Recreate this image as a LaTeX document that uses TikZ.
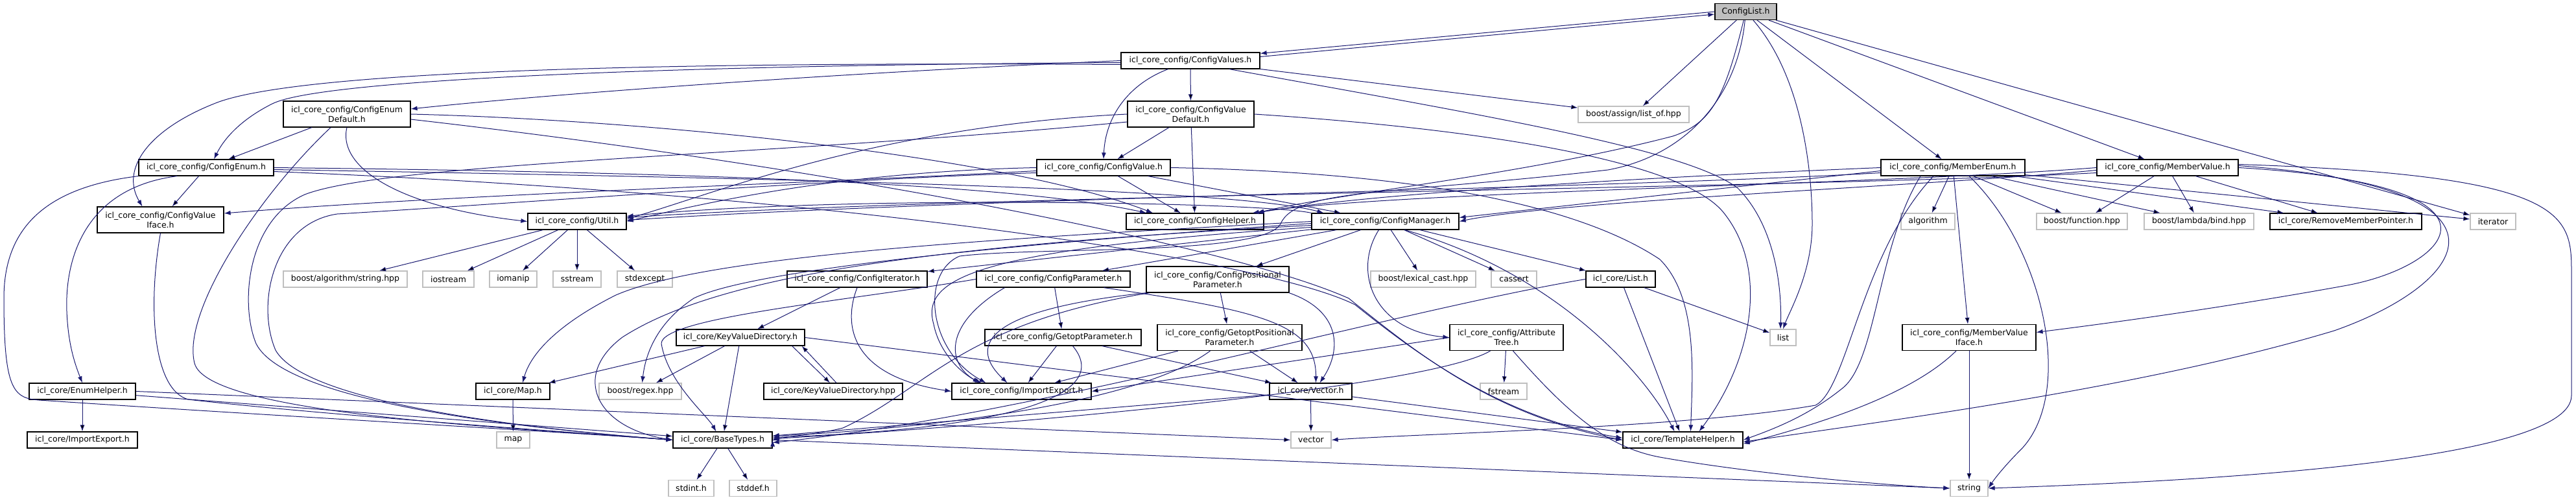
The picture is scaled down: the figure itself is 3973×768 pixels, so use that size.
\documentclass[tikz,border=0pt]{standalone}
\usepackage{fontspec}
\setmainfont{DejaVu Sans}
\usepackage{tikz}
\usetikzlibrary{arrows.meta}

\definecolor{edgeblue}{HTML}{191970}
\definecolor{sysgray}{HTML}{BFBFBF}

\tikzset{
	hdr/.style={draw=black, line width=1.2pt, fill=white, text=black, inner sep=0pt,
		minimum height=25pt, font=\fontsize{12.5pt}{15pt}\selectfont},
	sys/.style={hdr, draw=sysgray},
	root/.style={hdr, fill=sysgray},
	two/.style={minimum height=40pt, align=center},
	dep/.style={draw=edgeblue, line width=1pt, -{Latex[length=10pt,width=7pt]}}
}

\begin{document}
\begin{tikzpicture}[x=1pt, y=-1pt]
	\useasboundingbox (0,0) rectangle (3973,768);

	\node[root, minimum width=95pt] (cfgList) at (2692.5,18) {ConfigList.h};
	\node[hdr, minimum width=214pt] (cfgValues) at (1836,93.5) {icl\_core\_config/ConfigValues.h};

	\node[hdr, two, minimum width=196pt] (enumDef) at (535,176) {icl\_core\_config/ConfigEnum\\Default.h};
	\node[hdr, two, minimum width=195pt] (valueDef) at (1836.5,176) {icl\_core\_config/ConfigValue\\Default.h};
	\node[sys, minimum width=171pt] (listOf) at (2519.5,176.5) {boost/assign/list\_of.hpp};

	\node[hdr, minimum width=208pt] (cfgEnum) at (318,258.5) {icl\_core\_config/ConfigEnum.h};
	\node[hdr, minimum width=206pt] (cfgValue) at (1702,258.5) {icl\_core\_config/ConfigValue.h};
	\node[hdr, minimum width=222pt] (memEnum) at (3012,258.5) {icl\_core\_config/MemberEnum.h};
	\node[hdr, minimum width=218pt] (memValue) at (3343,258.5) {icl\_core\_config/MemberValue.h};

	\node[hdr, two, minimum width=195pt] (valIface) at (247.5,339) {icl\_core\_config/ConfigValue\\Iface.h};
	\node[hdr, minimum width=152pt] (cfgUtil) at (890,341.5) {icl\_core\_config/Util.h};
	\node[hdr, minimum width=212pt] (cfgHelper) at (1843,341.5) {icl\_core\_config/ConfigHelper.h};
	\node[hdr, minimum width=227pt] (cfgManager) at (2136.5,341.5) {icl\_core\_config/ConfigManager.h};
	\node[sys, minimum width=83pt] (stAlgorithm) at (2973.5,341.5) {algorithm};
	\node[sys, minimum width=140pt] (boostFunction) at (3211,341.5) {boost/function.hpp};
	\node[sys, minimum width=169pt] (boostBind) at (3391.5,341.5) {boost/lambda/bind.hpp};
	\node[hdr, minimum width=234pt] (rmPointer) at (3618,341.5) {icl\_core/RemoveMemberPointer.h};
	\node[sys, minimum width=70pt] (stIterator) at (3845,341.5) {iterator};

	\node[sys, minimum width=191pt] (boostString) at (532.5,430.5) {boost/algorithm/string.hpp};
	\node[sys, minimum width=79pt] (stIostream) at (691.5,430.5) {iostream};
	\node[sys, minimum width=73pt] (stIomanip) at (791.5,430.5) {iomanip};
	\node[sys, minimum width=74pt] (stSstream) at (890,430.5) {sstream};
	\node[sys, minimum width=85pt] (stStdexcept) at (994.5,430.5) {stdexcept};
	\node[hdr, minimum width=216pt] (cfgIterator) at (1322,430.5) {icl\_core\_config/ConfigIterator.h};
	\node[hdr, minimum width=237pt] (cfgParam) at (1624.5,430.5) {icl\_core\_config/ConfigParameter.h};
	\node[hdr, two, minimum width=220pt] (posParam) at (1878,431) {icl\_core\_config/ConfigPositional\\Parameter.h};
	\node[sys, minimum width=162pt] (lexCast) at (2195,430.5) {boost/lexical\_cast.hpp};
	\node[sys, minimum width=70pt] (stCassert) at (2335,430.5) {cassert};
	\node[hdr, minimum width=107pt] (coreList) at (2499.5,430.5) {icl\_core/List.h};

	\node[hdr, minimum width=198pt] (kvDir) at (1142,520.5) {icl\_core/KeyValueDirectory.h};
	\node[hdr, minimum width=241pt] (getoptParam) at (1639.5,520.5) {icl\_core\_config/GetoptParameter.h};
	\node[hdr, two, minimum width=223pt] (getoptPos) at (1896.5,520.5) {icl\_core\_config/GetoptPositional\\Parameter.h};
	\node[hdr, two, minimum width=175pt] (attrTree) at (2323.5,520.5) {icl\_core\_config/Attribute\\Tree.h};
	\node[sys, minimum width=40pt] (stList) at (2750,520.5) {list};
	\node[hdr, two, minimum width=206pt] (memIface) at (3037,520.5) {icl\_core\_config/MemberValue\\Iface.h};

	\node[hdr, minimum width=164pt] (enumHelper) at (127,603.5) {icl\_core/EnumHelper.h};
	\node[hdr, minimum width=114pt] (coreMap) at (791,603.5) {icl\_core/Map.h};
	\node[sys, minimum width=127pt] (boostRegex) at (987.5,603.5) {boost/regex.hpp};
	\node[hdr, minimum width=214pt] (kvDirHpp) at (1285,603.5) {icl\_core/KeyValueDirectory.hpp};
	\node[hdr, minimum width=215pt] (cfgExport) at (1575.5,603.5) {icl\_core\_config/ImportExport.h};
	\node[hdr, minimum width=127pt] (coreVector) at (2021.5,603.5) {icl\_core/Vector.h};
	\node[sys, minimum width=72pt] (stFstream) at (2319,603.5) {fstream};

	\node[hdr, minimum width=170pt] (coreExport) at (127,678.5) {icl\_core/ImportExport.h};
	\node[sys, minimum width=51pt] (stMap) at (791.5,678.5) {map};
	\node[hdr, minimum width=153pt] (baseTypes) at (1114.5,678.5) {icl\_core/BaseTypes.h};
	\node[sys, minimum width=62pt] (stVector) at (2022,678.5) {vector};
	\node[hdr, minimum width=185pt] (tmplHelper) at (2595.5,678.5) {icl\_core/TemplateHelper.h};

	\node[sys, minimum width=70pt] (stStdint) at (1066,753) {stdint.h};
	\node[sys, minimum width=73pt] (stStddef) at (1161.5,753) {stddef.h};
	\node[sys, minimum width=58pt] (stString) at (3037,753) {string};

	\draw[dep] (cfgList.west) -- ([yshift=-2pt]cfgValues.north east);
	\draw[dep] ([yshift=6pt]cfgValues.east) -- ([yshift=-4pt]cfgList.west);
	\path[dep]
	(cfgList) edge (listOf)
	(cfgList) edge (memEnum)
	(cfgList) edge (memValue)
	(cfgList) edge (stIterator)
	(cfgValues) edge (valueDef)
	(cfgValues) edge (listOf)
	(enumDef) edge (cfgEnum)
	(cfgEnum) edge (valIface)
	(valueDef) edge (cfgValue)
	(valueDef) edge (cfgHelper)
	(cfgValue) edge (cfgHelper)
	(cfgValue) edge (cfgManager)
	(cfgUtil) edge (boostString)
	(cfgUtil) edge (stIostream)
	(cfgUtil) edge (stIomanip)
	(cfgUtil) edge (stSstream)
	(cfgUtil) edge (stStdexcept)
	(cfgManager) edge (cfgIterator)
	(cfgManager) edge (cfgParam)
	(cfgManager) edge (posParam)
	(cfgManager) edge (lexCast)
	(cfgManager) edge (stCassert)
	(cfgManager) edge (coreList)
	(memEnum) edge (stAlgorithm)
	(memEnum) edge (boostFunction)
	(memEnum) edge (boostBind)
	(memEnum) edge (rmPointer)
	(memEnum) edge (stIterator)
	(memEnum) edge (memIface)
	(memValue) edge (boostFunction)
	(memValue) edge (boostBind)
	(memValue) edge (rmPointer)
	(memIface) edge (stString)
	(coreList) edge (stList)
	(coreList) edge (tmplHelper)
	(attrTree) edge (stFstream)
	(attrTree.west) edge (cfgExport.east)
	(cfgIterator) edge (kvDir)
	(cfgParam) edge (getoptParam)
	(posParam) edge (getoptPos)
	(getoptParam) edge (cfgExport)
	(getoptParam) edge (coreVector)
	(getoptPos) edge (cfgExport)
	(getoptPos) edge (coreVector)
	(kvDir) edge (coreMap)
	(kvDir) edge (boostRegex)
	(kvDir) edge (baseTypes)
	([xshift=-20pt]kvDir.south east) edge ([xshift=-5pt]kvDirHpp.north)
	([xshift=5pt]kvDirHpp.north) edge ([xshift=-5pt]kvDir.south east)
	(kvDir.east) edge (tmplHelper.west)
	(coreVector) edge (stVector)
	(coreVector) edge (baseTypes)
	(coreVector) edge (tmplHelper)
	(coreMap) edge (stMap)
	(enumHelper) edge (coreExport)
	(enumHelper) edge (baseTypes)
	(enumHelper.east) edge (stVector.west)
	(baseTypes) edge (stStdint)
	(baseTypes) edge (stStddef)
	(baseTypes.east) edge (stString.west)
	;

	\draw[dep] (cfgList) .. controls (2660,150) and (2640,190) .. (2580,210) .. controls (2350,270) and (2050,300) .. ([xshift=-10pt]cfgHelper.north east);
	\draw[dep] (cfgList) .. controls (2680,150) and (2600,240) .. (2480,262) .. controls (2150,300) and (2000,290) .. (1975,345) .. controls (1950,395) and (1600,380) .. (1480,395) .. controls (1420,420) and (1430,540) .. ([xshift=-55pt]cfgExport.north);
	\draw[dep] (cfgList) .. controls (2790,130) and (2795,300) .. (2795,345) .. controls (2795,420) and (2760,480) .. (stList.north);

	\draw[dep] (cfgValues.west) .. controls (1350,110) and (900,140) .. ([yshift=8pt]enumDef.east);
	\draw[dep] ([yshift=-3pt]cfgValues.west) .. controls (1100,100) and (500,120) .. (420,160) .. controls (370,185) and (345,215) .. ([xshift=12pt]cfgEnum.north);
	\draw[dep] ([yshift=-6pt]cfgValues.west) .. controls (1000,95) and (450,110) .. (330,160) .. controls (230,200) and (185,260) .. ([xshift=-28pt]valIface.north);
	\draw[dep] (cfgValues) .. controls (1740,130) and (1705,180) .. (cfgValue.north);
	\draw[dep] ([xshift=60pt]cfgValues.south) .. controls (2300,180) and (2600,230) .. (2680,290) .. controls (2740,350) and (2748,450) .. ([xshift=-4pt]stList.north);

	\draw[dep] (enumDef.east) .. controls (1000,185) and (1550,240) .. ([xshift=-65pt]cfgHelper.north);
	\draw[dep] ([yshift=-8pt]enumDef.east) .. controls (1300,260) and (1900,380) .. (2080,460) .. controls (2180,540) and (2300,640) .. (tmplHelper.west);
	\draw[dep] (enumDef.south) .. controls (520,260) and (620,320) .. (cfgUtil.west);
	\draw[dep] ([xshift=-25pt]enumDef.south) .. controls (400,300) and (280,480) .. (300,560) .. controls (320,640) and (800,660) .. (baseTypes.west);

	\draw[dep] ([xshift=-45pt]cfgEnum.south) .. controls (130,290) and (100,400) .. (103,480) .. controls (105,530) and (115,560) .. (enumHelper.north);
	\draw[dep] (cfgEnum.south west) .. controls (60,290) and (6,360) .. (6,460) .. controls (6,600) and (20,614) .. (60,617) .. controls (400,640) and (900,668) .. (baseTypes.west);
	\draw[dep] (cfgEnum.east) .. controls (1000,265) and (1550,280) .. ([xshift=-75pt]cfgHelper.north);
	\draw[dep] ([yshift=-3pt]cfgEnum.east) .. controls (1200,275) and (1900,290) .. ([xshift=-95pt]cfgManager.north);
	\draw[dep] ([yshift=-6pt]cfgEnum.east) .. controls (1300,300) and (1950,400) .. (2090,470) .. controls (2190,550) and (2320,645) .. ([yshift=3pt]tmplHelper.west);

	\draw[dep] (valIface.south) .. controls (228,470) and (235,600) .. (290,616) .. controls (500,640) and (900,668) .. (baseTypes.west);

	\draw[dep] (valueDef.east) .. controls (2300,200) and (2600,250) .. (2660,330) .. controls (2730,420) and (2700,560) .. ([xshift=25pt]tmplHelper.north);
	\draw[dep] (valueDef.west) .. controls (1350,195) and (1100,300) .. ([yshift=4pt]cfgUtil.east);
	\draw[dep] ([yshift=-12pt]valueDef.west) .. controls (1200,240) and (600,250) .. (470,300) .. controls (380,340) and (370,470) .. (395,530) .. controls (440,620) and (800,660) .. (baseTypes.west);

	\draw[dep] (cfgValue.east) .. controls (2200,266) and (2440,320) .. (2560,400) .. controls (2620,460) and (2610,580) .. ([xshift=12pt]tmplHelper.north);
	\draw[dep] (cfgValue.west) .. controls (1300,265) and (1100,310) .. (cfgUtil.east);
	\draw[dep] ([yshift=-5pt]cfgValue.west) .. controls (1200,285) and (700,300) .. ([yshift=10pt]valIface.east);
	\draw[dep] ([yshift=-8pt]cfgValue.west) .. controls (1300,275) and (700,320) .. (520,330) .. controls (420,345) and (395,470) .. (425,540) .. controls (470,620) and (800,660) .. (baseTypes.west);

	\draw[dep] ([xshift=-10pt]cfgManager.south) .. controls (2085,420) and (2120,510) .. (attrTree.west);
	\draw[dep] ([xshift=30pt]cfgManager.south) .. controls (2400,420) and (2540,580) .. ([xshift=-13pt]tmplHelper.north);
	\draw[dep] (cfgManager.north west) .. controls (1950,312) and (1300,300) .. ([yshift=8pt]cfgUtil.east);
	\draw[dep] (cfgManager.west) .. controls (1600,365) and (1100,390) .. (950,455) .. controls (870,495) and (820,540) .. ([xshift=15pt]coreMap.north);
	\draw[dep] ([yshift=-3pt]cfgManager.west) .. controls (1500,380) and (1150,420) .. (1070,460) .. controls (1010,500) and (995,550) .. ([xshift=3pt]boostRegex.north);
	\draw[dep] ([yshift=-6pt]cfgManager.west) .. controls (1400,380) and (1100,430) .. (960,520) .. controls (880,580) and (920,660) .. (baseTypes.west);
	\draw[dep] ([yshift=-9pt]cfgManager.west) .. controls (1500,385) and (1420,430) .. (1440,500) .. controls (1450,550) and (1490,580) .. ([xshift=-62pt]cfgExport.north);

	\draw[dep] (memEnum.west) .. controls (2500,275) and (2100,300) .. ([xshift=-12pt]cfgHelper.north east);
	\draw[dep] ([yshift=-5pt]memEnum.west) -- ([yshift=6pt]cfgManager.east);
	\draw[dep] ([yshift=-8pt]memEnum.west) .. controls (2500,290) and (1500,305) .. ([yshift=2pt]cfgUtil.east);
	\draw[dep] ([xshift=-50pt]memEnum.south) .. controls (2895,380) and (2895,560) .. (2840,600) .. controls (2790,640) and (2740,660) .. (tmplHelper.east);
	\draw[dep] ([xshift=-30pt]memEnum.south) .. controls (2870,390) and (2850,600) .. (2800,625) .. controls (2600,660) and (2200,668) .. (stVector.east);
	\draw[dep] ([xshift=25pt]memEnum.south) .. controls (3150,380) and (3200,600) .. (3120,690) .. controls (3090,720) and (3075,740) .. (stString.east);

	\draw[dep] (memValue.east) .. controls (3900,285) and (3780,410) .. (3620,440) .. controls (3400,480) and (3200,505) .. ([yshift=8pt]memIface.east);
	\draw[dep] ([yshift=3pt]memValue.east) .. controls (3920,290) and (3800,440) .. (3600,510) .. controls (3300,600) and (2900,650) .. ([yshift=-3pt]tmplHelper.east);
	\draw[dep] ([yshift=5pt]memValue.east) .. controls (3960,270) and (3966,330) .. (3966,420) -- (3966,610) .. controls (3966,720) and (3300,745) .. (stString.east);
	\draw[dep] (memValue.west) .. controls (2900,285) and (2150,295) .. ([xshift=-18pt]cfgHelper.north east);
	\draw[dep] ([yshift=-4pt]memValue.west) .. controls (3000,285) and (2400,310) .. (cfgManager.east);
	\draw[dep] ([yshift=-8pt]memValue.west) .. controls (2800,290) and (1500,300) .. ([yshift=6pt]cfgUtil.east);

	\draw[dep] ([xshift=-20pt]memIface.south) .. controls (2946,611) and (2800,655) .. ([yshift=-6pt]tmplHelper.east);
	\draw[dep] (coreList.west) .. controls (2150,480) and (1600,640) .. ([yshift=-4pt]baseTypes.east);
	\draw[dep] ([xshift=10pt]attrTree.south) .. controls (2420,640) and (2480,690) .. (2560,705) .. controls (2700,730) and (2900,748) .. (stString.west);
	\draw[dep] ([xshift=-25pt]attrTree.south) .. controls (2200,600) and (1500,660) .. ([yshift=2pt]baseTypes.east);

	\draw[dep] (cfgIterator.south) .. controls (1300,500) and (1310,580) .. (cfgExport.west);
	\draw[dep] ([xshift=-75pt]cfgParam.south) .. controls (1455,500) and (1460,560) .. ([xshift=-65pt]cfgExport.north);
	\draw[dep] ([xshift=78pt]cfgParam.south) .. controls (1950,480) and (2030,500) .. ([xshift=8pt]coreVector.north);
	\draw[dep] (cfgParam.west) .. controls (1300,465) and (1020,490) .. (1020,530) .. controls (1030,590) and (1090,640) .. ([xshift=-10pt]baseTypes.north);
	\draw[dep] ([xshift=110pt]posParam.south) .. controls (2069,480) and (2069,540) .. ([xshift=14pt]coreVector.north);
	\draw[dep] ([xshift=-110pt]posParam.south) .. controls (1500,480) and (1500,540) .. ([xshift=-22pt]cfgExport.north);
	\draw[dep] ([xshift=-105pt]posParam.south) .. controls (1480,500) and (1430,600) .. (1300,660) .. controls (1260,670) and (1220,672) .. (baseTypes.east);
	\draw[dep] ([xshift=15pt]getoptParam.south) .. controls (1710,600) and (1600,660) .. ([yshift=4pt]baseTypes.east);
	\draw[dep] ([xshift=-30pt]getoptPos.south) .. controls (1760,620) and (1450,660) .. ([yshift=6pt]baseTypes.east);
\end{tikzpicture}
\end{document}
